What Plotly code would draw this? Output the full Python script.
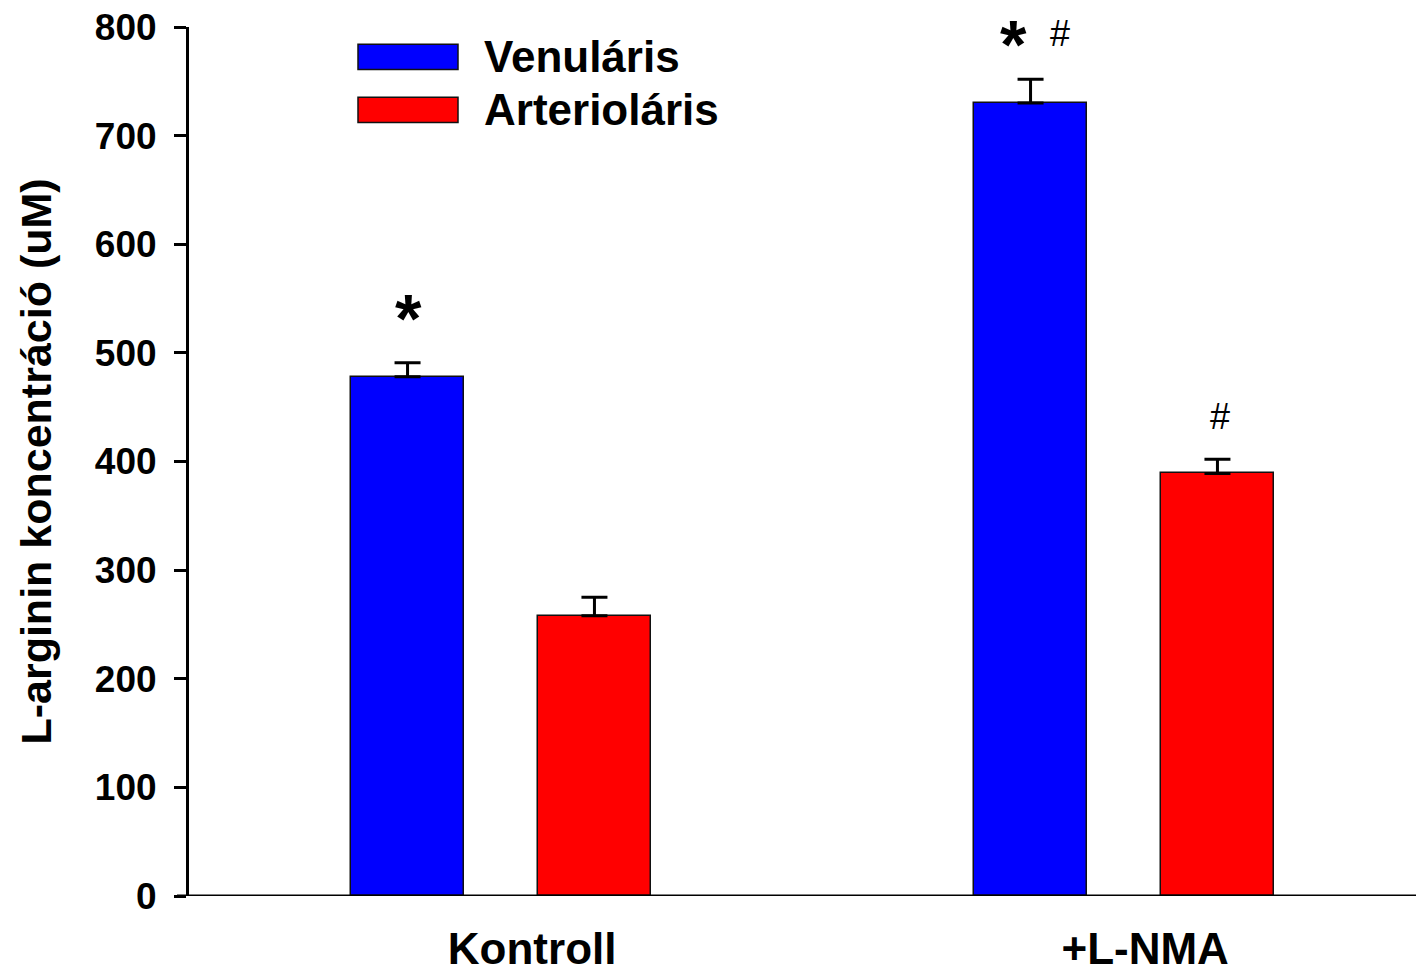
import plotly.graph_objects as go

categories = ["Kontroll", "+L-NMA"]
series_names = ["Venuláris", "Arterioláris"]
venularis = [478, 730]
venularis_err = [13, 22]
arteriolaris = [258, 389]
arteriolaris_err = [17, 13]
y_ticks = [0, 100, 200, 300, 400, 500, 600, 700, 800]
marks_ven = ["*", "*"]
marks_ven_hash = ["", "#"]
marks_art = ["", "#"]

colors = ["#0000FF", "#FF0000"]
FONT = "Liberation Sans, Arial, sans-serif"
group_pos = [0, 1]
offset = 0.15
width = 0.18

fig = go.Figure()
for name, vals, errs, col, sgn in [
    (series_names[0], venularis, venularis_err, colors[0], -1),
    (series_names[1], arteriolaris, arteriolaris_err, colors[1], 1),
]:
    fig.add_trace(go.Bar(
        x=[g + sgn * offset for g in group_pos], y=vals, width=width, name=name,
        marker=dict(color=col, line=dict(color="#111111", width=1.5)),
        error_y=dict(type="data", array=errs, arrayminus=[0] * len(errs), symmetric=False,
                     color="black", thickness=3, width=13),
        showlegend=False,
    ))

# significance markers
star_yshift = [45, 35]
star_xshift = [1, -17]
for i, g in enumerate(group_pos):
    top_v = venularis[i] + venularis_err[i]
    top_a = arteriolaris[i] + arteriolaris_err[i]
    if marks_ven[i]:
        fig.add_annotation(x=g - offset, y=top_v, yshift=star_yshift[i], xshift=star_xshift[i],
                           text="<b>" + marks_ven[i] + "</b>", showarrow=False,
                           font=dict(family=FONT, size=68, color="black"), yanchor="middle")
    if marks_ven_hash[i]:
        fig.add_annotation(x=g - offset, y=top_v, yshift=23, xshift=29,
                           text=marks_ven_hash[i], showarrow=False,
                           font=dict(family=FONT, size=36, color="black"), yanchor="bottom")
    if marks_art[i]:
        fig.add_annotation(x=g + offset, y=top_a, yshift=20, xshift=3,
                           text=marks_art[i], showarrow=False,
                           font=dict(family=FONT, size=36, color="black"), yanchor="bottom")

# legend drawn as shapes + text
leg_y = [0.9656, 0.9047]
for name, col, yy in zip(series_names, colors, leg_y):
    fig.add_shape(type="rect", xref="paper", yref="paper",
                  x0=(358 - 189) / 1227, x1=(458 - 189) / 1227,
                  y0=yy - 0.0145, y1=yy + 0.0145,
                  fillcolor=col, line=dict(color="#111111", width=1.5))
    fig.add_annotation(xref="paper", yref="paper", x=(482 - 189) / 1227, y=yy,
                       text="<b>" + name + "</b>", showarrow=False, xanchor="left", yanchor="middle",
                       font=dict(family=FONT, size=44, color="black"))

fig.update_layout(
    width=1416, height=973,
    margin=dict(l=189, r=0, t=27, b=75),
    plot_bgcolor="white", paper_bgcolor="white",
    bargap=0, showlegend=False,
    font=dict(family=FONT, color="black"),
    xaxis=dict(range=[-0.5008, 1.4687], tickvals=[0.05, 1.034], ticktext=["<b>" + c + "</b>" for c in categories],
               tickfont=dict(family=FONT, size=44, color="black"), ticks="", showgrid=False,
               zeroline=False, showline=False, ticklabelstandoff=23),
    yaxis=dict(range=[0, 800], tickvals=y_ticks, ticktext=["<b>%d</b>" % v for v in y_ticks],
               tickfont=dict(family=FONT, size=37, color="black"), ticks="outside", ticklen=12,
               tickwidth=3, tickcolor="black", showline=True, linecolor="black", linewidth=3,
               showgrid=False, zeroline=False, ticklabelstandoff=10,
               title=dict(text="<b>L-arginin koncentráció (uM)</b>", standoff=30,
                          font=dict(family=FONT, size=43, color="black"))),
)
# x axis baseline extending through tick area
fig.add_shape(type="line", xref="paper", yref="y", x0=-12 / 1227, x1=1, y0=0, y1=0,
              line=dict(color="black", width=3))

fig.write_html("out.html", config={"displayModeBar": False},
               post_script="document.body.style.margin='0';")
